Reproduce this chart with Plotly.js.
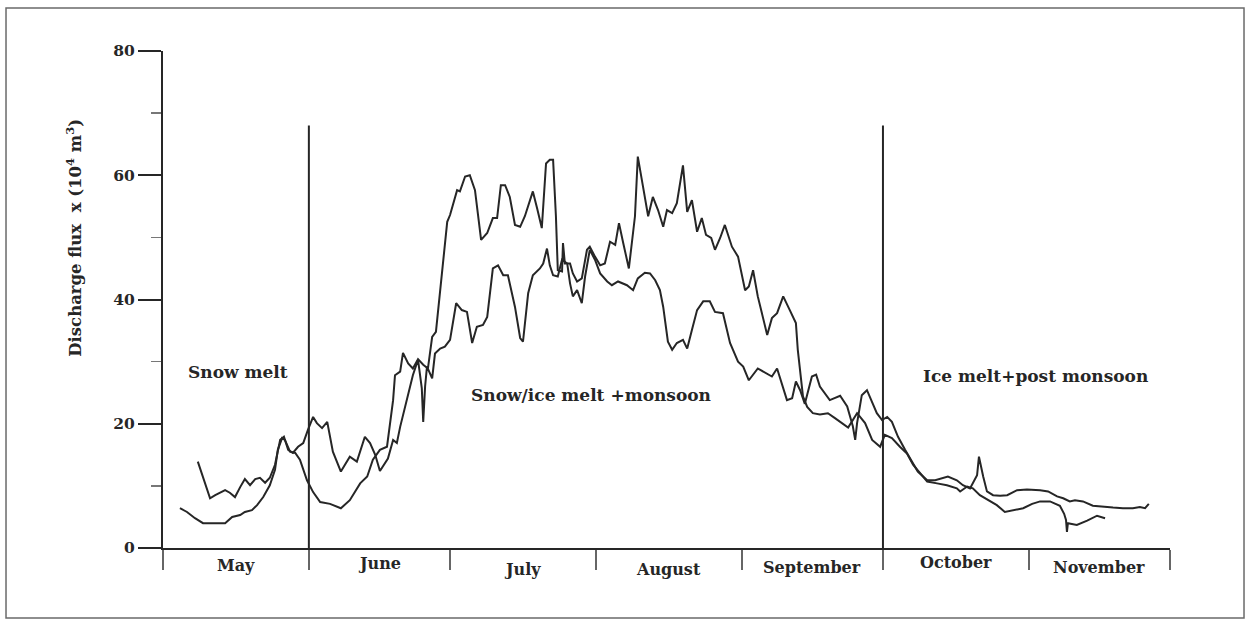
<!DOCTYPE html>
<html>
<head>
<meta charset="utf-8">
<script src="https://cdn.plot.ly/plotly-3.0.1.min.js"></script>
<style>
  html, body { margin: 0; padding: 0; background: #ffffff; }
  #chart { width: 1249px; height: 623px; }
</style>
</head>
<body>
<div id="chart"></div>
<script>
// ---- Data (day of season counted from 1 May, discharge in 10^4 m^3) ----
const months = ['May', 'June', 'July', 'August', 'September', 'October', 'November'];
const daysInMonth = [31, 30, 31, 31, 30, 31, 30];

const phaseLabels = ['Snow melt', 'Snow/ice melt +monsoon', 'Ice melt+post monsoon'];
const phaseLabelDay = [16, 91, 185.5];
const phaseLabelValue = [28.3, 24.6, 27.7];
const phaseBoundaryMonths = [1, 5];   // phase lines at start of June and October
const phaseLineTop = 68;

const yTicks = [0, 20, 40, 60, 80];

const dayA = [7.4,10.0,11.1,12.1,13.2,14.2,15.3,16.4,17.4,18.5,19.6,20.6,21.7,22.7,23.8,24.9,25.7,26.6,27.6,28.7,29.8,30.8,31.9,32.7,33.8,34.9,36.1,37.8,39.7,41.2,42.9,44.0,45.1,46.1,47.8,48.9,49.7,50.4,51.9,53.1,54.2,55.0,55.3,55.7,56.1,57.2,57.8,58.9,59.9,61.0,62.3,63.5,64.6,65.7,66.7,68.0,68.9,70.1,71.2,72.3,73.3,74.8,75.9,76.5,77.6,78.6,80.1,80.8,81.6,82.2,82.9,83.9,84.8,85.9,86.5,87.1,88.0,89.0,89.7,90.7,91.8,92.9,94.4,95.4,96.7,98.6,99.9,100.9,102.4,103.5,104.6,105.6,106.3,107.3,108.2,109.2,110.5,111.4,112.4,113.5,114.8,116.2,117.3,119.0,120.5,122.2,123.3,124.5,126.4,128.4,129.4,130.5,131.5,132.6,133.7,134.5,135.4,136.4,137.9,138.8,139.6,141.7,143.9,145.4,146.6,147.1,147.5,148.5,149.6,150.7,151.7,152.8,153.9,154.9,156.2,157.7,159.2,160.4,162.4,164.1,166.8,168.7,170.0,171.5,173.0,173.4,174.3,175.1,176.4,177.9,179.4,181.5,183.6,186.4,188.1,190.0,191.3,192.7,193.8,195.5,197.6,199.8,201.9,204.0,206.1,207.6,208.7,209.5];
const flowA = [13.9,8.0,8.5,8.9,9.3,8.9,8.2,9.8,11.1,10.1,11.1,11.3,10.5,11.3,13.4,17.4,17.9,15.8,15.3,16.3,16.9,19.0,21.1,20.1,19.3,20.3,15.5,12.3,14.7,13.9,17.9,16.9,15.0,12.4,14.4,17.4,16.9,19.5,24.4,27.8,30.3,25.7,20.3,26.0,29.2,27.3,31.3,32.1,32.4,33.5,39.4,38.3,38.0,33.0,35.6,35.9,37.2,45.0,45.5,43.9,43.9,38.8,33.8,33.2,41.0,43.9,45.0,45.8,48.2,45.5,43.9,43.7,46.4,45.8,42.6,40.5,41.5,39.4,43.7,48.0,46.4,44.2,42.9,42.3,42.9,42.3,41.5,43.4,44.3,44.2,43.1,41.5,38.8,33.2,31.9,33.0,33.5,32.1,35.1,38.3,39.7,39.7,38.0,37.8,33.0,30.0,29.2,27.0,28.9,28.1,27.6,28.9,26.5,23.8,24.1,26.8,25.4,23.2,27.6,27.9,26.0,23.8,24.5,22.8,19.6,17.4,20.1,24.6,25.4,23.5,21.7,20.6,21.1,20.3,17.9,15.8,13.9,12.3,10.9,10.9,11.5,10.9,10.1,9.6,11.7,14.7,11.5,9.1,8.5,8.4,8.5,9.3,9.4,9.3,9.1,8.3,8.0,7.5,7.7,7.5,6.8,6.6,6.5,6.4,6.4,6.6,6.4,7.1];

const dayB = [3.6,5.1,6.8,8.5,10.6,13.2,14.7,16.4,17.4,18.9,20.0,21.3,22.7,23.8,24.4,25.3,25.9,27.0,28.1,29.1,30.6,31.9,33.4,35.5,37.8,39.7,41.9,43.4,44.6,46.1,47.6,48.9,49.3,50.4,51.0,52.1,53.1,54.2,55.3,56.3,57.2,58.0,60.4,61.0,62.5,63.1,64.2,65.2,66.3,67.6,68.9,70.1,71.0,71.8,72.7,73.7,74.8,75.9,76.9,78.6,79.5,80.5,81.4,82.2,82.9,83.5,83.9,84.8,85.0,85.4,86.5,87.1,88.0,89.0,90.1,90.7,91.8,92.9,93.9,95.0,96.1,96.9,97.8,99.0,100.3,100.9,102.0,103.1,104.1,105.2,106.3,107.1,108.2,109.2,110.5,111.4,112.4,113.5,114.5,115.4,116.5,117.3,118.4,119.4,120.9,122.2,123.7,124.5,125.4,126.4,128.4,129.4,130.5,131.8,133.2,134.5,134.9,136.0,136.9,138.1,139.6,141.3,142.8,144.3,145.6,147.5,149.2,150.7,152.4,153.4,154.9,156.6,158.1,159.4,160.9,162.4,164.5,166.6,168.7,169.4,170.9,172.1,173.6,175.7,177.2,178.9,180.6,182.8,184.7,186.4,188.5,190.6,191.5,191.9,192.1,192.3,194.2,196.4,198.5,200.2];
const flowB = [6.4,5.8,4.8,4.0,4.0,4.0,5.0,5.3,5.8,6.1,6.9,8.2,10.1,12.6,15.8,17.7,17.4,15.5,15.3,14.2,10.9,9.0,7.4,7.1,6.4,7.7,10.4,11.5,14.2,15.8,16.3,23.8,27.8,28.4,31.4,29.7,28.9,30.4,29.5,28.9,34.0,34.8,52.5,53.6,57.6,57.4,59.8,60.0,57.6,49.6,50.7,53.1,53.1,58.4,58.4,56.5,52.0,51.7,53.4,57.4,54.7,51.5,61.9,62.5,62.5,53.4,44.7,44.5,49.1,45.8,45.8,44.2,42.9,43.4,48.0,48.5,46.9,45.5,45.8,49.3,48.8,52.3,49.1,45.0,53.4,63.0,58.2,53.4,56.5,54.4,51.7,54.4,53.9,55.5,61.6,54.1,56.0,50.9,53.1,50.4,49.9,48.0,49.9,52.0,48.5,46.9,41.5,42.1,44.7,40.5,34.3,37.0,37.8,40.5,38.3,36.2,31.9,24.4,22.7,21.7,21.5,21.7,20.9,20.1,19.4,21.7,20.1,17.4,16.3,18.2,17.7,16.3,15.2,13.4,12.0,10.7,10.4,10.1,9.6,9.1,9.9,9.6,8.5,7.5,6.9,5.8,6.1,6.4,7.1,7.5,7.5,6.8,5.5,4.5,2.6,4.0,3.7,4.4,5.2,4.8];

// ---- Derived month boundaries ----
const bounds = [0];
daysInMonth.forEach(d => bounds.push(bounds[bounds.length - 1] + d));
const totalDays = bounds[bounds.length - 1];
const monthCenters = months.map((m, i) => (bounds[i] + bounds[i + 1]) / 2);

// ---- Styles ----
const ink = '#262626';
const serif = 'DejaVu Serif';
const monthLabelShift = [-17, -15, -21, -21, -19, -14, -19];

const lineStyle = { color: ink, width: 2 };
const traces = [
  { x: dayA, y: flowA, type: 'scatter', mode: 'lines', line: lineStyle, hoverinfo: 'skip', showlegend: false },
  { x: dayB, y: flowB, type: 'scatter', mode: 'lines', line: lineStyle, hoverinfo: 'skip', showlegend: false }
];

const annotations = [];
months.forEach((m, i) => {
  annotations.push({
    text: m, x: monthCenters[i], xref: 'x', y: 0, yref: 'paper',
    yanchor: 'middle', xanchor: 'center', yshift: monthLabelShift[i], showarrow: false,
    font: { family: serif, size: 16, color: ink, weight: 'bold' }
  });
});
phaseLabels.forEach((t, i) => {
  annotations.push({
    text: t, x: phaseLabelDay[i], y: phaseLabelValue[i], xref: 'x', yref: 'y',
    xanchor: 'center', yanchor: 'middle', showarrow: false,
    font: { family: serif, size: 17, color: ink, weight: 'bold' }
  });
});
annotations.push({
  text: 'Discharge flux  x (10<sup>4</sup> m<sup>3</sup>)',
  xref: 'paper', yref: 'paper', x: -0.088, y: 0.625,
  xanchor: 'center', yanchor: 'middle', textangle: -90, showarrow: false,
  font: { family: serif, size: 16.5, color: ink, weight: 'bold' }
});

const shapes = phaseBoundaryMonths.map(mi => ({
  type: 'line', xref: 'x', yref: 'y',
  x0: bounds[mi], x1: bounds[mi], y0: 0, y1: phaseLineTop,
  line: { color: ink, width: 2 }
}));
shapes.push({
  type: 'rect', xref: 'paper', yref: 'paper',
  x0: -0.1559, x1: 1.0735, y0: -0.1408, y1: 1.0865,
  line: { color: '#6a6a6a', width: 1.5 }, fillcolor: 'rgba(0,0,0,0)'
});

const layout = {
  width: 1249, height: 623,
  margin: { l: 163, r: 79, t: 51, b: 75 },
  paper_bgcolor: '#ffffff', plot_bgcolor: '#ffffff',
  showlegend: false,
  xaxis: {
    range: [0, totalDays], showgrid: false, zeroline: false,
    showline: true, linecolor: ink, linewidth: 2,
    tickmode: 'array', tickvals: bounds, ticks: 'outside', ticklen: 20,
    tickwidth: 1.5, tickcolor: '#666', showticklabels: false, fixedrange: true
  },
  yaxis: {
    range: [0, 80], showgrid: false, zeroline: false,
    showline: true, linecolor: ink, linewidth: 2,
    tickmode: 'array', tickvals: yTicks, ticks: 'outside', ticklen: 23,
    tickwidth: 2, tickcolor: ink,
    minor: { dtick: 10, tick0: 0, ticks: 'outside', ticklen: 10, tickwidth: 1.5, tickcolor: '#777', showgrid: false },
    tickfont: { family: serif, size: 15.5, color: ink, weight: 'bold' },
    fixedrange: true
  },
  annotations: annotations,
  shapes: shapes
};

Plotly.newPlot('chart', traces, layout, { displayModeBar: false, staticPlot: true });
</script>
</body>
</html>
